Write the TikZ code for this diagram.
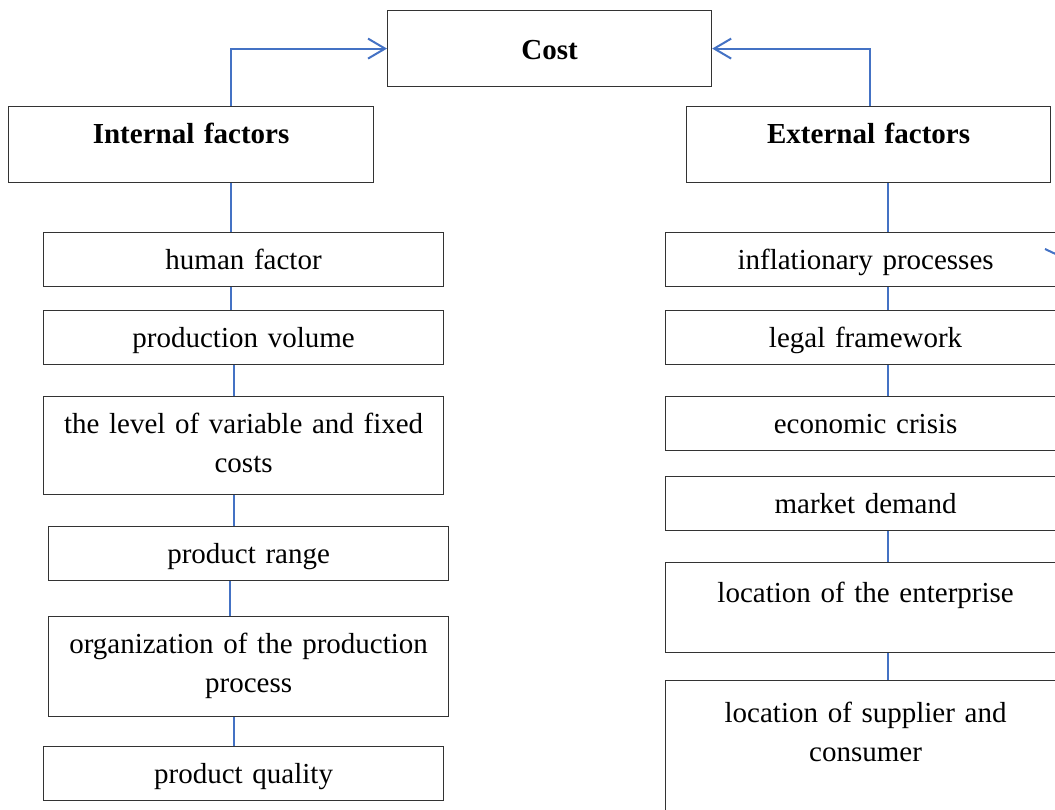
\documentclass[tikz,border=0pt]{standalone}
\usepackage{fontspec}
\setmainfont{Liberation Serif}
\usepackage{xcolor}
\usetikzlibrary{arrows.meta,positioning}
\definecolor{linkblue}{RGB}{68,114,196}

\begin{document}
\begin{tikzpicture}[
		x=0.5pt, y=-0.5pt,
		box/.style={rectangle, draw=black!80, line width=0.6pt, anchor=north west, inner sep=0pt,
			text width=200pt, align=center, text height=18.5pt, text depth=8.5pt,
			font=\fontsize{14.5}{19.5}\selectfont},
		head/.style={box, font=\fontsize{14.5}{19.5}\selectfont\bfseries},
		link/.style={draw=linkblue, line width=0.6pt},
		arrowlink/.style={link, line width=1pt, -{Straight Barb[length=8.5pt,width=10pt]}}
		]
		\useasboundingbox (0,0) rectangle (1055,809);

		% Cost et facteurs
		\node[head, text width=162pt, text height=24.5pt, text depth=13.5pt] (cost) at (387,10) {Cost};
		\node[head, text width=182.5pt, text depth=19.5pt] (int) at (8,106) {Internal factors};
		\node[head, text width=182pt, text depth=19.5pt] (ext) at (686,106) {External factors};

		\draw[arrowlink] (int.north -| 231,0) |- (cost.west);
		\draw[arrowlink] (ext.north -| 870,0) |- (cost.east);

		% Facteurs internes
		\node[box] (hf) at (43,232) {human factor};
		\node[box] (pv) at (43,310) {production volume};
		\node[box, text depth=30.5pt] (lvl) at (43,396) {the level of variable and fixed\\costs};
		\node[box] (rng) at (48,526) {product range};
		\node[box, text depth=31.5pt] (org) at (48,616) {organization of the production\\process};
		\node[box] (qual) at (43,746) {product quality};

		\draw[link] (int.south -| 231,0) -- (hf.north -| 231,0);
		\draw[link] (hf.south -| 231,0) -- (pv.north -| 231,0);
		\draw[link] (pv.south -| 234,0) -- (lvl.north -| 234,0);
		\draw[link] (lvl.south -| 234,0) -- (rng.north -| 234,0);
		\draw[link] (rng.south -| 230,0) -- (org.north -| 230,0);
		\draw[link] (org.south -| 234,0) -- (qual.north -| 234,0);

		% Facteurs externes
		\node[box] (infl) at (665,232) {inflationary processes};
		\node[box] (legal) at (665,310) {legal framework};
		\node[box] (crisis) at (665,396) {economic crisis};
		\node[box] (demand) at (665,476) {market demand};
		\node[box, text height=20pt, text depth=25pt] (loc) at (665,562) {location of the enterprise};
		\node[box, text height=21pt, text depth=54pt] (supp) at (665,680) {location of supplier and\\consumer};

		\draw[link] (ext.south -| 888,0) -- (infl.north -| 888,0);
		\draw[link] (infl.south -| 888,0) -- (legal.north -| 888,0);
		\draw[link] (legal.south -| 888,0) -- (crisis.north -| 888,0);
		\draw[link] (demand.south -| 888,0) -- (loc.north -| 888,0);
		\draw[link] (loc.south -| 888,0) -- (supp.north -| 888,0);

		\coordinate (s1) at (1045,249);
		\coordinate (s2) at (1062,257);
		\draw[link, line width=1pt] (s1) -- (s2);
	\end{tikzpicture}
\end{document}
